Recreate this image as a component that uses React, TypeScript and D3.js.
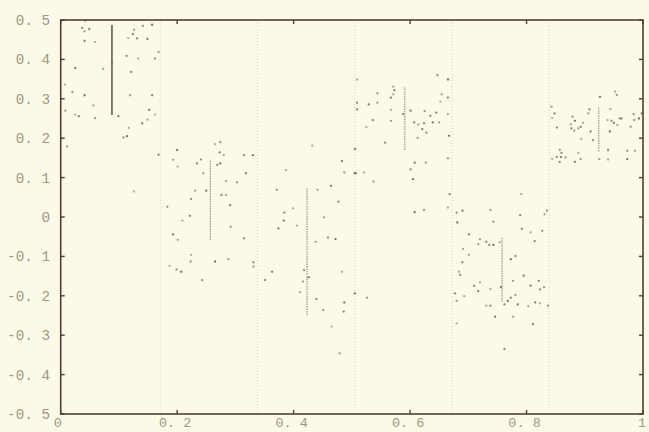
import React from "react";
import * as d3 from "d3";

const xTicks = [0, 0.2, 0.4, 0.6, 0.8, 1];
const yTicks = [0.5, 0.4, 0.3, 0.2, 0.1, 0, -0.1, -0.2, -0.3, -0.4, -0.5];
const segmentBounds = [0.171, 0.338, 0.505, 0.672, 0.839];

// vertical bars: [x, low, high]
const barX = [0.088, 0.257, 0.423, 0.591, 0.758, 0.924];
const barLow = [0.259, -0.058, -0.249, 0.17, -0.215, 0.166];
const barHigh = [0.487, 0.145, 0.074, 0.33, -0.05, 0.277];

const seg1: [number, number][] = [[0.042,0.498],[0.037,0.48],[0.049,0.477],[0.041,0.471],[0.041,0.447],[0.059,0.444],[0.141,0.485],[0.157,0.488],[0.126,0.475],[0.124,0.464],[0.116,0.454],[0.131,0.453],[0.149,0.452],[0.168,0.419],[0.113,0.409],[0.133,0.402],[0.162,0.402],[0.025,0.378],[0.073,0.376],[0.121,0.368],[0.007,0.336],[0.02,0.317],[0.041,0.309],[0.119,0.309],[0.157,0.309],[0.056,0.283],[0.008,0.27],[0.152,0.272],[0.025,0.26],[0.031,0.256],[0.162,0.26],[0.059,0.251],[0.099,0.256],[0.149,0.247],[0.14,0.238],[0.117,0.226],[0.108,0.202],[0.114,0.205],[0.011,0.179],[0.168,0.158],[0.126,0.065],[0.088,0.391]];

const seg2: [number, number][] = [[0.265,0.185],[0.274,0.19],[0.2,0.17],[0.193,0.145],[0.273,0.164],[0.28,0.157],[0.315,0.157],[0.33,0.157],[0.241,0.146],[0.234,0.136],[0.201,0.128],[0.269,0.132],[0.274,0.136],[0.245,0.111],[0.318,0.111],[0.284,0.091],[0.303,0.088],[0.25,0.067],[0.231,0.067],[0.276,0.056],[0.284,0.056],[0.224,0.046],[0.291,0.03],[0.183,0.026],[0.222,0.003],[0.209,-0.009],[0.292,-0.025],[0.193,-0.044],[0.201,-0.058],[0.315,-0.054],[0.224,-0.096],[0.223,-0.113],[0.265,-0.113],[0.288,-0.107],[0.331,-0.115],[0.187,-0.124],[0.199,-0.133],[0.207,-0.139],[0.331,-0.126],[0.243,-0.16]];

const seg3: [number, number][] = [[0.432,0.181],[0.506,0.173],[0.483,0.142],[0.487,0.113],[0.505,0.111],[0.387,0.119],[0.371,0.069],[0.464,0.079],[0.441,0.069],[0.477,0.039],[0.399,0.022],[0.384,0.011],[0.383,-0.009],[0.452,-0.001],[0.374,-0.029],[0.406,-0.022],[0.459,-0.052],[0.472,-0.056],[0.438,-0.063],[0.363,-0.139],[0.483,-0.139],[0.418,-0.135],[0.426,-0.153],[0.416,-0.164],[0.351,-0.16],[0.411,-0.191],[0.439,-0.208],[0.487,-0.217],[0.451,-0.236],[0.486,-0.24],[0.465,-0.278],[0.479,-0.346],[0.505,-0.194],[0.526,-0.205]];

const seg4: [number, number][] = [[0.509,0.349],[0.647,0.36],[0.665,0.349],[0.571,0.331],[0.573,0.322],[0.571,0.311],[0.544,0.314],[0.567,0.303],[0.654,0.311],[0.665,0.303],[0.652,0.293],[0.509,0.29],[0.529,0.286],[0.544,0.29],[0.509,0.273],[0.567,0.272],[0.588,0.261],[0.601,0.27],[0.625,0.269],[0.645,0.265],[0.665,0.261],[0.635,0.257],[0.536,0.246],[0.567,0.244],[0.607,0.24],[0.614,0.235],[0.624,0.238],[0.639,0.24],[0.65,0.24],[0.621,0.223],[0.525,0.228],[0.628,0.214],[0.667,0.206],[0.613,0.201],[0.557,0.189],[0.505,0.172],[0.665,0.149],[0.608,0.138],[0.627,0.138],[0.601,0.121],[0.521,0.113],[0.507,0.111],[0.605,0.096],[0.537,0.09],[0.668,0.058],[0.665,0.024],[0.624,0.018],[0.608,0.012]];

const seg5: [number, number][] = [[0.791,0.058],[0.68,0.011],[0.69,0.016],[0.738,0.018],[0.789,0.005],[0.831,0.007],[0.835,0.016],[0.681,-0.014],[0.743,-0.012],[0.792,-0.03],[0.807,-0.039],[0.827,-0.035],[0.701,-0.044],[0.72,-0.056],[0.731,-0.063],[0.754,-0.064],[0.736,-0.071],[0.743,-0.071],[0.717,-0.069],[0.814,-0.061],[0.691,-0.081],[0.781,-0.099],[0.773,-0.107],[0.701,-0.096],[0.69,-0.115],[0.684,-0.139],[0.686,-0.147],[0.795,-0.149],[0.777,-0.162],[0.821,-0.162],[0.72,-0.166],[0.71,-0.175],[0.807,-0.174],[0.83,-0.178],[0.756,-0.178],[0.738,-0.183],[0.823,-0.184],[0.717,-0.188],[0.781,-0.198],[0.677,-0.194],[0.693,-0.201],[0.773,-0.205],[0.768,-0.213],[0.68,-0.213],[0.762,-0.222],[0.731,-0.225],[0.738,-0.225],[0.785,-0.222],[0.803,-0.226],[0.815,-0.217],[0.823,-0.219],[0.837,-0.225],[0.746,-0.253],[0.777,-0.253],[0.811,-0.272],[0.68,-0.27],[0.762,-0.335]];

const seg6: [number, number][] = [[0.952,0.318],[0.955,0.31],[0.926,0.305],[0.843,0.28],[0.908,0.273],[0.944,0.274],[0.984,0.261],[0.998,0.263],[0.906,0.263],[0.848,0.263],[0.844,0.251],[0.879,0.255],[0.883,0.244],[0.897,0.239],[0.893,0.229],[0.876,0.235],[0.889,0.225],[0.877,0.225],[0.882,0.219],[0.852,0.227],[0.939,0.246],[0.946,0.244],[0.95,0.239],[0.96,0.25],[0.963,0.25],[0.956,0.233],[0.985,0.246],[0.993,0.25],[0.979,0.229],[0.91,0.217],[0.894,0.198],[0.914,0.195],[0.943,0.217],[0.857,0.17],[0.86,0.163],[0.844,0.147],[0.852,0.152],[0.859,0.152],[0.867,0.151],[0.857,0.14],[0.889,0.163],[0.893,0.147],[0.883,0.14],[0.925,0.147],[0.94,0.17],[0.94,0.146],[0.973,0.168],[0.973,0.147],[0.986,0.168]];

const W = 649;
const H = 432;
const BG = "rgb(252,249,231)";
const AXIS = "#4e4030";
const TEXT = "#9b978a";
const POINT = "#6f6452";

function fmt(v: number): string {
  if (Math.abs(v) < 1e-9) return "0";
  if (Math.abs(v - 1) < 1e-9) return "1";
  return d3.format(".1f")(v).replace("−", "-").replace(".", ". ");
}

export default function App() {
  const x = d3.scaleLinear().domain([0, 1]).range([60.7, 643]);
  const y = d3.scaleLinear().domain([-0.5, 0.5]).range([414, 20]);
  const allSegs = [seg1, seg2, seg3, seg4, seg5, seg6];
  const font = "'Liberation Mono', 'DejaVu Sans Mono', monospace";
  const tk = 4;
  return (
    <svg width={W} height={H} style={{ position: "fixed", left: 0, top: 0, background: BG }}>
      <rect x={0} y={0} width={W} height={H} fill={BG} />
      {segmentBounds.map((b, i) => (
        <line key={"g" + i} x1={x(b)} x2={x(b)} y1={y(0.5)} y2={y(-0.5)}
          stroke="#d6d0bb" strokeWidth={1} strokeDasharray="1,2" />
      ))}
      {barX.map((bx, i) => (
        <line key={"b" + i} x1={x(bx)} x2={x(bx)} y1={y(barLow[i])} y2={y(barHigh[i])}
          stroke={i === 0 ? "#6a5d4a" : "#9a917e"} strokeWidth={i === 0 ? 1.6 : 1.2}
          strokeDasharray={i === 0 ? undefined : "1.5,1"} />
      ))}
      {allSegs.map((seg, si) =>
        seg.map((p, pi) => (
          <circle key={`p${si}-${pi}`} cx={x(p[0])} cy={y(p[1])} r={1.15}
            fill={POINT} opacity={0.55 + ((pi * 7) % 5) * 0.09} />
        ))
      )}
      <rect x={x(0)} y={y(0.5)} width={x(1) - x(0)} height={y(-0.5) - y(0.5)}
        fill="none" stroke={AXIS} strokeWidth={1.6} />
      {yTicks.map((t, i) => (
        <g key={"yt" + i}>
          <line x1={x(0)} x2={x(0) + tk} y1={y(t)} y2={y(t)} stroke={AXIS} strokeWidth={1.4} />
          <line x1={x(1)} x2={x(1) - tk} y1={y(t)} y2={y(t)} stroke={AXIS} strokeWidth={1.4} />
          <text x={50} y={y(t)} dy="0.35em" textAnchor="end" fontFamily={font}
            fontSize={14.3} fill={TEXT}>{fmt(t)}</text>
        </g>
      ))}
      {xTicks.map((t, i) => (
        <g key={"xt" + i}>
          <line x1={x(t)} x2={x(t)} y1={y(-0.5)} y2={y(-0.5) - tk} stroke={AXIS} strokeWidth={1.4} />
          <line x1={x(t)} x2={x(t)} y1={y(0.5)} y2={y(0.5) + tk} stroke={AXIS} strokeWidth={1.4} />
          <text x={i === 0 ? x(t) - 3 : i === xTicks.length - 1 ? x(t) - 1 : x(t) - 2} y={427}
            textAnchor="middle" fontFamily={font} fontSize={13.5} fill={TEXT}>{fmt(t)}</text>
        </g>
      ))}
    </svg>
  );
}
